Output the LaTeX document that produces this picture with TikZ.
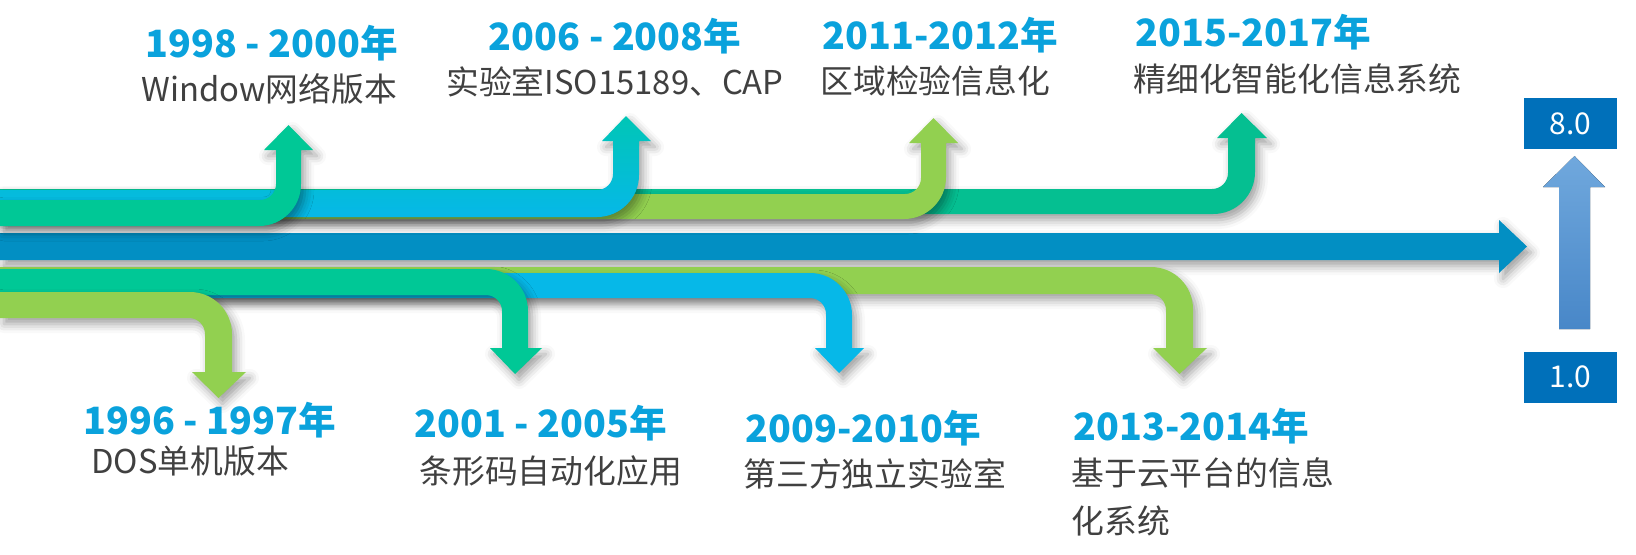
\documentclass[tikz,border=0pt]{standalone}
\usepackage{fontspec}
\setmainfont{Noto Sans CJK SC}
\usetikzlibrary{shadows.blur}

\definecolor{leafgreen}{HTML}{00C896}
\definecolor{seagreen}{HTML}{05BF91}
\definecolor{limegreen}{HTML}{92D050}
\definecolor{skycyan}{HTML}{06B8E8}
\definecolor{tealcyan}{HTML}{00C6B6}
\definecolor{mainblue}{HTML}{028FC3}
\definecolor{boxblue}{HTML}{0070BA}
\definecolor{risetop}{HTML}{70A8DD}
\definecolor{risebot}{HTML}{4887C8}
\definecolor{yearblue}{HTML}{0AA2DC}
\definecolor{descgray}{HTML}{404040}

% bent arrows: style, band top, band bottom, shaft left, shaft right, head base, tip, head left, head right
\newcommand\arrowup[9]{%
  \path[flow,#1] (0,#3) -- ({#5-42},#3) .. controls ({#5-18.8},#3) and (#5,{#3-18.8}) .. (#5,{#3-42})
    -- (#5,#6) -- (#9,#6) -- ({(#4+#5)/2},#7) -- (#8,#6) -- (#4,#6)
    -- (#4,{#2-16}) .. controls (#4,{#2-7.2}) and ({#4-7.2},#2) .. ({#4-16},#2) -- (0,#2) -- cycle;}
\newcommand\arrowdown[9]{%
  \path[flow,#1] (0,#2) -- ({#5-42},#2) .. controls ({#5-18.8},#2) and (#5,{#2+18.8}) .. (#5,{#2+42})
    -- (#5,#6) -- (#9,#6) -- ({(#4+#5)/2},#7) -- (#8,#6) -- (#4,#6)
    -- (#4,{#3+16}) .. controls (#4,{#3+7.2}) and ({#4-7.2},#3) .. ({#4-16},#3) -- (0,#3) -- cycle;}

\begin{document}
\begin{tikzpicture}[x=0.5pt, y=-0.5pt,
  yearlbl/.style={text=yearblue, font=\bfseries\fontsize{18.8}{22}\selectfont, inner sep=0pt, anchor=base west},
  desclbl/.style={text=descgray, font=\fontsize{16.4}{19}\selectfont, inner sep=0pt, anchor=base west},
  verbox/.style={fill=boxblue, text=white, minimum width=46.5pt, minimum height=25.5pt, inner sep=0pt, font=\fontsize{15}{17}\selectfont},
  flow/.style={blur shadow={shadow xshift=2pt, shadow yshift=-3pt, shadow blur radius=4.5pt, shadow opacity=38}}]
  \useasboundingbox (0,0) rectangle (1636,554);

  % main time line
  \path[flow, fill=mainblue] (0,233) -- (1499,233) -- (1499,220) -- (1527,246.5) -- (1499,273) -- (1499,260) -- (0,260) -- cycle;

  % upper arrows, back to front
  \arrowup{fill=seagreen}{189}{214}{1228}{1255}{138}{113}{1217}{1267}
  \arrowup{fill=limegreen}{194}{219}{921}{946}{143}{118}{909}{958}
  \arrowup{top color=tealcyan, bottom color=skycyan}{190}{217}{613}{639}{141}{116}{602}{651}
  \arrowup{fill=leafgreen}{200}{226}{276}{301}{150}{125}{264}{313}

  % lower arrows, back to front
  \arrowdown{fill=limegreen}{267}{294}{1166}{1193}{348}{374}{1153}{1207}
  \arrowdown{fill=skycyan}{273}{298}{826}{852}{348}{373}{815}{864}
  \arrowdown{fill=leafgreen}{269}{295}{502}{528}{348}{374}{490}{542}
  \arrowdown{fill=limegreen}{292}{318}{205}{232}{372}{398}{192}{246}

  % version scale
  \node[verbox] (v8) at (1570.5,123.5) {8.0};
  \node[verbox] (v1) at (1570.5,377) {1.0};
  \fill[top color=risetop, bottom color=risebot] (1559,329) -- (1559,187) -- (1543,187) -- (1574.5,156)
    -- (1605,187) -- (1590,187) -- (1590,329) -- cycle;

  % upper labels
  \node[yearlbl] (y1998) at (145,57) {1998 - 2000年};
  \node[desclbl] (d1998) at (141,101) {Window网络版本};
  \node[yearlbl, anchor=base] (y2006) at (615,50) {2006 - 2008年};
  \node[desclbl, anchor=base] (d2006) at (615,94) {实验室ISO15189、CAP};
  \node[yearlbl] (y2011) at (822,49) {2011-2012年};
  \node[desclbl] (d2011) at (820,93) {区域检验信息化};
  \node[yearlbl] (y2015) at (1135,46) {2015-2017年};
  \node[desclbl] (d2015) at (1133,91) {精细化智能化信息系统};

  % lower labels
  \node[yearlbl] (y1996) at (83,434) {1996 - 1997年};
  \node[desclbl] (d1996) at (91,473) {DOS单机版本};
  \node[yearlbl] (y2001) at (414,437) {2001 - 2005年};
  \node[desclbl] (d2001) at (419,483) {条形码自动化应用};
  \node[yearlbl] (y2009) at (745,442) {2009-2010年};
  \node[desclbl] (d2009) at (743,486) {第三方独立实验室};
  \node[yearlbl] (y2013) at (1073,440) {2013-2014年};
  \node[desclbl] (d2013) at (1071,485) {基于云平台的信息};
  \node[desclbl] (d2013b) at (1071,533) {化系统};
\end{tikzpicture}
\end{document}
